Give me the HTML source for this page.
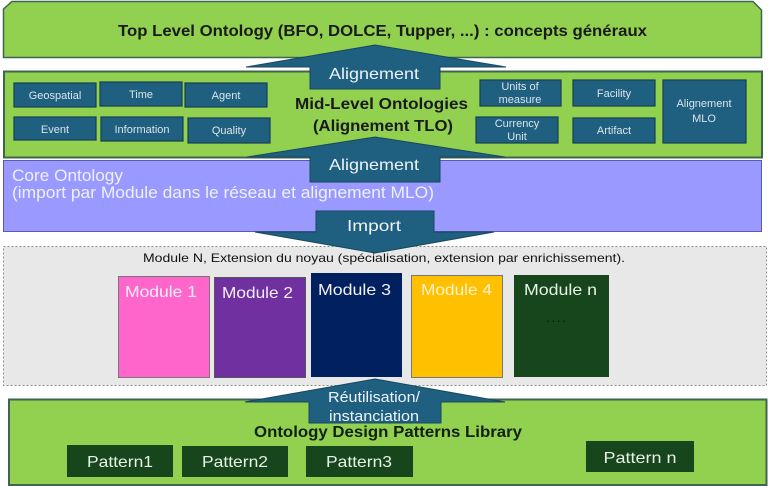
<!DOCTYPE html>
<html><head><meta charset="utf-8"><style>
html,body{margin:0;padding:0;background:#fff;}
svg{display:block;}
text{font-family:"Liberation Sans",sans-serif;}
</style></head><body>
<svg width="768" height="486" viewBox="0 0 768 486" xmlns="http://www.w3.org/2000/svg">
<!-- Top box -->
<polygon points="3.5,9 12,1.5 753,1.5 761.5,10 761.5,57.5 3.5,57.5" fill="#92d050" stroke="#3f6450" stroke-width="1.5"/>
<text x="382.5" y="36" font-size="16" font-weight="bold" fill="#1a1a1a" text-anchor="middle" textLength="529" lengthAdjust="spacingAndGlyphs">Top Level Ontology (BFO, DOLCE, Tupper, ...) : concepts généraux</text>

<!-- Mid box -->
<rect x="4" y="71.5" width="758" height="86" fill="#92d050" stroke="#3f6450" stroke-width="2"/>
<g fill="#1f5f7f" stroke="#173f52" stroke-width="1.2">
<rect x="14" y="83" width="82" height="24"/>
<rect x="100" y="82" width="82" height="24"/>
<rect x="185" y="83" width="82" height="24"/>
<rect x="14" y="117" width="82" height="23"/>
<rect x="101" y="117" width="82" height="24"/>
<rect x="188" y="118" width="82" height="25"/>
<rect x="480" y="80" width="81" height="26"/>
<rect x="573" y="80" width="82" height="26"/>
<rect x="663" y="80" width="83" height="63"/>
<rect x="476" y="117" width="82" height="26"/>
<rect x="573" y="118" width="82" height="25"/>
</g>
<g font-size="11" fill="#dbe5ec" text-anchor="middle">
<text x="55" y="99">Geospatial</text>
<text x="141" y="98">Time</text>
<text x="226" y="99">Agent</text>
<text x="55" y="133">Event</text>
<text x="142" y="133">Information</text>
<text x="229" y="134">Quality</text>
<text x="520" y="90">Units of</text>
<text x="520" y="103">measure</text>
<text x="614" y="97">Facility</text>
<text x="704" y="107">Alignement</text>
<text x="704" y="122">MLO</text>
<text x="517" y="127">Currency</text>
<text x="517" y="140">Unit</text>
<text x="614" y="134">Artifact</text>
</g>

<!-- Core ontology -->
<rect x="3.5" y="160.5" width="758" height="71" fill="#9999ff" stroke="#5a5aa8" stroke-width="1"/>
<text x="12" y="181" font-size="17" fill="#eef0ff" textLength="111" lengthAdjust="spacingAndGlyphs">Core Ontology</text>
<text x="12" y="198" font-size="17" fill="#eef0ff" textLength="422" lengthAdjust="spacingAndGlyphs">(import par Module dans le réseau et alignement MLO)</text>

<!-- Dotted module area -->
<rect x="3.5" y="246.5" width="763" height="139" fill="#e8e8e8" stroke="#8a8a8a" stroke-width="1" stroke-dasharray="2,2"/>
<text x="384" y="262" font-size="12" fill="#111" text-anchor="middle" textLength="482" lengthAdjust="spacingAndGlyphs">Module N, Extension du noyau (spécialisation, extension par enrichissement).</text>
<rect x="118.5" y="276.5" width="91" height="101" fill="#ff66cc" stroke="#777" stroke-width="1"/>
<rect x="214.5" y="277.5" width="91" height="100" fill="#7030a0" stroke="#555" stroke-width="1"/>
<rect x="311" y="273" width="91" height="104" fill="#002060"/>
<rect x="411.5" y="275.5" width="91" height="102" fill="#ffc000" stroke="#777" stroke-width="1"/>
<rect x="514" y="275" width="95" height="102" fill="#17451c"/>
<g font-size="16" fill="#f4f0f8">
<text x="125" y="297" textLength="72" lengthAdjust="spacingAndGlyphs">Module 1</text>
<text x="222" y="298" textLength="71" lengthAdjust="spacingAndGlyphs">Module 2</text>
<text x="318" y="295" textLength="73" lengthAdjust="spacingAndGlyphs">Module 3</text>
<text x="421" y="295" fill="#fff3d0" textLength="71" lengthAdjust="spacingAndGlyphs">Module 4</text>
<text x="524" y="295" fill="#e8f4e8" textLength="73" lengthAdjust="spacingAndGlyphs">Module n</text>
</g>
<text x="556" y="322" font-size="14" fill="#0a1a0a" text-anchor="middle" textLength="20" lengthAdjust="spacing">....</text>

<!-- Bottom green -->
<rect x="9" y="399.5" width="757.5" height="85.5" fill="#92d050" stroke="#3f6450" stroke-width="2"/>
<g fill="#17451c">
<rect x="67" y="445" width="106" height="32"/>
<rect x="182" y="446" width="106" height="31"/>
<rect x="306" y="446" width="107" height="31"/>
<rect x="586" y="441" width="108" height="31"/>
</g>
<g font-size="16" fill="#e6f2e6" text-anchor="middle">
<text x="120" y="467" textLength="66" lengthAdjust="spacingAndGlyphs">Pattern1</text>
<text x="235" y="467" textLength="66" lengthAdjust="spacingAndGlyphs">Pattern2</text>
<text x="359" y="467" textLength="66" lengthAdjust="spacingAndGlyphs">Pattern3</text>
<text x="640" y="463" textLength="73" lengthAdjust="spacingAndGlyphs">Pattern n</text>
</g>

<!-- Arrows -->
<g fill="#1f5f7f" stroke="#18485f" stroke-width="1">
<polygon points="375,45 506,67 440,67 440,89 310,89 310,67 246,67"/>
<polygon points="375,137 505,157 440,157 440,182 310,182 310,157 247,157"/>
<polygon points="316,211 434,211 434,232 494,232 375,253 255,232 316,232"/>
<polygon points="375,379 505,402 441,402 441,423 309,423 309,402 245,402"/>
</g>
<g fill="#eef4f8" text-anchor="middle">
<text x="374" y="79" font-size="16" textLength="90" lengthAdjust="spacingAndGlyphs">Alignement</text>
<text x="374" y="170" font-size="16" textLength="90" lengthAdjust="spacingAndGlyphs">Alignement</text>
<text x="374" y="231" font-size="16" textLength="54" lengthAdjust="spacingAndGlyphs">Import</text>
<text x="374" y="402" font-size="15" textLength="92" lengthAdjust="spacingAndGlyphs">Réutilisation/</text>
<text x="374" y="421" font-size="15" textLength="90" lengthAdjust="spacingAndGlyphs">instanciation</text>
</g>

<!-- Mid-level label -->
<text x="381.5" y="109" font-size="16" font-weight="bold" fill="#1a1a1a" text-anchor="middle" textLength="173" lengthAdjust="spacingAndGlyphs">Mid-Level Ontologies</text>
<text x="383" y="131" font-size="16" font-weight="bold" fill="#1a1a1a" text-anchor="middle" textLength="140" lengthAdjust="spacingAndGlyphs">(Alignement TLO)</text>

<!-- ODP label -->
<text x="388" y="437" font-size="16" font-weight="bold" fill="#122012" text-anchor="middle" textLength="268" lengthAdjust="spacingAndGlyphs">Ontology Design Patterns Library</text>
</svg>
</body></html>
